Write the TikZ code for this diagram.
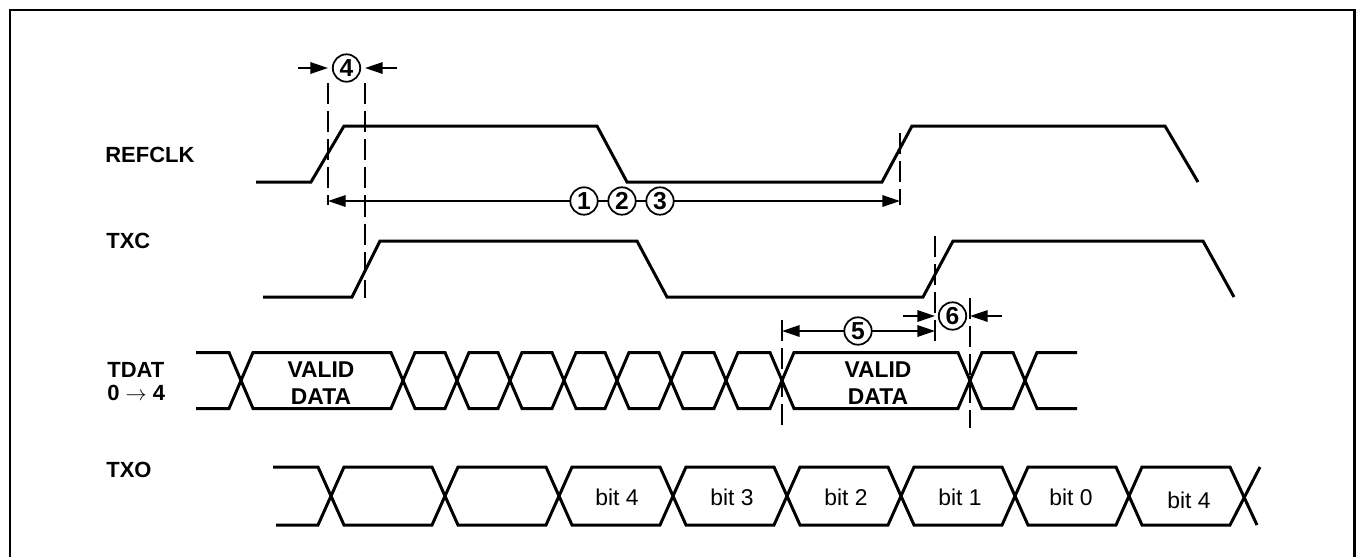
\documentclass[tikz,border=0pt]{standalone}
\usepackage{fontspec}
\setmainfont{Liberation Sans}
\usepackage{amsmath}
\usetikzlibrary{arrows.meta}

\begin{document}
\begin{tikzpicture}[x=0.02cm, y=-0.02cm,
    wave/.style={line width=1.7pt, line join=miter},
    guide/.style={line width=1pt, dash pattern=on 12pt off 4pt},
    dim/.style={line width=1pt, >={Triangle[length=10pt,width=6.5pt]}},
    num/.style={circle, draw, line width=1pt, fill=white, inner sep=0pt,
        minimum size=15.6pt, font=\fontsize{14}{14}\selectfont\bfseries},
    sig/.style={anchor=west, inner sep=0pt, align=left,
        font=\fontsize{12.5}{13.6}\selectfont\bfseries},
    data/.style={align=center, inner sep=0pt, font=\fontsize{13}{15.3}\selectfont\bfseries},
    bit/.style={inner sep=0pt, font=\fontsize{13}{13}\selectfont}]
    \useasboundingbox (0,0) rectangle (1356,556);

    % frame (open at the bottom)
    \draw[line width=1.5pt] (10,570) -- (10,10) -- (1354.5,10) -- (1354.5,570);

    % signal names
    \node[sig] (refclk) at (105,154.5) {REFCLK};
    \node[sig] (txc) at (106,241) {TXC};
    \node[sig] (tdat) at (107,381.5) {TDAT\\0 $\rightarrow$ 4};
    \node[sig] (txo) at (106,470) {TXO};

    % clocks
    \draw[wave] (256,182) -- (311,182) -- (344,126) -- (597,126) -- (627,182)
        -- (882,182) -- (912,126) -- (1165,126) -- (1198,182);
    \draw[wave] (263,297) -- (352,297) -- (380,241) -- (637,241) -- (667,297)
        -- (923,297) -- (953,241) -- (1203,241) -- (1234,297);

    % TDAT bus
    \draw[wave] (196,352.5) -- (229,352.5) -- (253,408.5) -- (391,408.5) -- (415,352.5)
        -- (445,352.5) -- (469,408.5) -- (498,408.5) -- (522,352.5) -- (552,352.5)
        -- (576,408.5) -- (605,408.5) -- (629,352.5) -- (659,352.5) -- (683,408.5)
        -- (714,408.5) -- (738,352.5) -- (770,352.5) -- (794,408.5) -- (958,408.5)
        -- (982,352.5) -- (1013,352.5) -- (1037,408.5) -- (1077,408.5);
    \draw[wave] (196,408.5) -- (229,408.5) -- (253,352.5) -- (391,352.5) -- (415,408.5)
        -- (445,408.5) -- (469,352.5) -- (498,352.5) -- (522,408.5) -- (552,408.5)
        -- (576,352.5) -- (605,352.5) -- (629,408.5) -- (659,408.5) -- (683,352.5)
        -- (714,352.5) -- (738,408.5) -- (770,408.5) -- (794,352.5) -- (958,352.5)
        -- (982,408.5) -- (1013,408.5) -- (1037,352.5) -- (1077,352.5);
    \node[data] (valid1) at (321,383) {VALID\\DATA};
    \node[data] (valid2) at (878,383) {VALID\\DATA};

    % TXO bus
    \draw[wave] (273,467) -- (318,467) -- (344,525) -- (432,525) -- (458,467)
        -- (546,467) -- (572,525) -- (660,525) -- (686,467) -- (774,467)
        -- (800,525) -- (888,525) -- (914,467) -- (1002,467) -- (1028,525)
        -- (1116,525) -- (1142,467) -- (1230,467) -- (1257,525);
    \draw[wave] (276,525) -- (318,525) -- (344,467) -- (432,467) -- (458,525)
        -- (546,525) -- (572,467) -- (660,467) -- (686,525) -- (774,525)
        -- (800,467) -- (888,467) -- (914,525) -- (1002,525) -- (1028,467)
        -- (1116,467) -- (1142,525) -- (1230,525) -- (1260,467);
    \node[bit] (b4a) at (617,497) {bit 4};
    \node[bit] (b3) at (732,497) {bit 3};
    \node[bit] (b2) at (846,497) {bit 2};
    \node[bit] (b1) at (960,497) {bit 1};
    \node[bit] (b0) at (1071,497) {bit 0};
    \node[bit] (b4b) at (1189,500) {bit 4};

    % timing guides
    \draw[guide] (328,83) -- (328,205);
    \draw[guide] (365,83) -- (365,298);
    \draw[guide] (900,133) -- (900,205);
    \draw[guide] (935,236) -- (935,342);
    \draw[guide] (970,298) -- (970,428);
    \draw[guide] (782,320) -- (782,428);

    % parameter marks
    \coordinate (p4from) at (298,68);
    \coordinate (p4a) at (328,68);
    \coordinate (p4b) at (365,68);
    \coordinate (p4to) at (397,68);
    \node[num] (n4) at (346.5,68) {4};
    \draw[dim,->] (p4from) -- (p4a);
    \draw[dim,->] (p4to) -- (p4b);

    \coordinate (p1a) at (328,201);
    \coordinate (p1b) at (900,201);
    \draw[dim,<->] (p1a) -- (p1b);
    \node[num] (n1) at (584,201) {1};
    \node[num] (n2) at (622,201) {2};
    \node[num] (n3) at (660,201) {3};

    \coordinate (p5a) at (782,331);
    \coordinate (p5b) at (935,331);
    \draw[dim,<->] (p5a) -- (p5b);
    \node[num] (n5) at (858,331) {5};

    \coordinate (p6from) at (903,316);
    \coordinate (p6a) at (935,316);
    \coordinate (p6b) at (970,316);
    \coordinate (p6to) at (1002,316);
    \node[num] (n6) at (952.5,316) {6};
    \draw[dim,->] (p6from) -- (p6a);
    \draw[dim,->] (p6to) -- (p6b);
\end{tikzpicture}
\end{document}
